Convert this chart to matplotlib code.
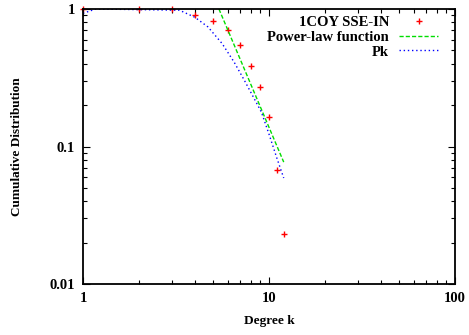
import numpy as np
import matplotlib
matplotlib.use("Agg")
import matplotlib.pyplot as plt
from matplotlib.ticker import LogLocator, NullFormatter, FixedLocator, FixedFormatter

plt.rcParams['font.family'] = ['Liberation Serif', 'DejaVu Serif']
plt.rcParams['font.weight'] = 'bold'

# data
deg_k = [1, 2, 3, 4, 5, 6, 7, 8, 9, 10, 11, 12]
cum_dist = [1.0, 1.0, 1.0, 0.905, 0.822, 0.70, 0.545, 0.387, 0.272, 0.165, 0.068, 0.023]

power_k = [5.38, 12.0]
power_y = [1.0, 0.077]

pk_k = [1.0, 1.17, 3.3, 4.0, 4.7, 5.6, 6.5, 7.4, 8.4, 9.1, 10.0, 11.0, 12.0]
pk_y = [0.93, 1.0, 0.98, 0.87, 0.74, 0.56, 0.41, 0.30, 0.218, 0.178, 0.123, 0.083, 0.059]

fig = plt.figure(figsize=(4.69, 3.35), dpi=100)
ax = fig.add_axes([83 / 469, 1 - 284 / 335, (455 - 83) / 469, (284 - 9) / 335])

ax.plot(deg_k, cum_dist, linestyle='none', marker='+', color='red',
        markersize=5, markeredgewidth=1.0, label='1COY SSE-IN', clip_on=False)
ax.plot(power_k, power_y, color='#00dd00', linestyle=(0, (3, 1.5)), linewidth=1.0,
        label='Power-law function')
ax.plot(pk_k, pk_y, color='blue', linestyle=(0, (1, 2)), linewidth=1.0, label='Pk')

ax.set_xscale('log')
ax.set_yscale('log')
ax.set_xlim(1, 100)
ax.set_ylim(0.01, 1)

ax.xaxis.set_major_locator(FixedLocator([1, 10, 100]))
ax.xaxis.set_major_formatter(FixedFormatter(['1', '10', '100']))
ax.yaxis.set_major_locator(FixedLocator([0.01, 0.1, 1]))
ax.yaxis.set_major_formatter(FixedFormatter(['0.01', '0.1', '1']))
for axis in (ax.xaxis, ax.yaxis):
    axis.set_minor_locator(LogLocator(base=10, subs=np.arange(2, 10)))
    axis.set_minor_formatter(NullFormatter())

ax.tick_params(which='both', direction='in', top=True, right=True, labelsize=10.5, pad=6)
ax.tick_params(which='major', length=5, width=0.8)
ax.tick_params(which='minor', length=3, width=0.8)
for sp in ax.spines.values():
    sp.set_linewidth(1.3)

ax.set_xlabel('Degree k', fontsize=9.5, fontweight='bold', labelpad=7)
ax.set_ylabel('Cumulative Distribution', fontsize=9.5, fontweight='bold', labelpad=19)

leg = ax.legend(loc='upper right', frameon=False, fontsize=10.5, markerfirst=False,
                handlelength=2.67, handletextpad=0.68, labelspacing=0.1,
                borderaxespad=0, borderpad=0,
                bbox_to_anchor=(438 / 469, 1 - 16 / 335), bbox_transform=fig.transFigure)
for t in leg.get_texts():
    t.set_ha('right')
leg._legend_box.align = 'right'

fig.savefig('out.png', dpi=100)
